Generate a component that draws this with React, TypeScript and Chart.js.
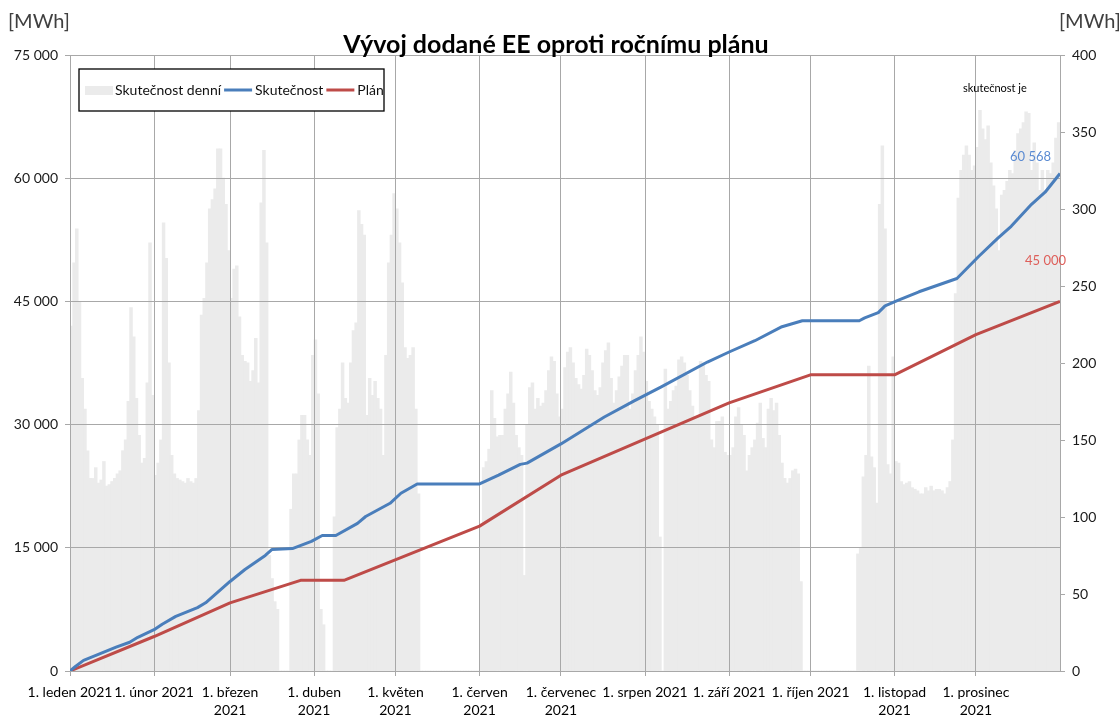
import React, { useEffect, useRef } from 'react';
import { Chart, registerables } from 'chart.js';

Chart.register(...registerables);

const titleText = 'Vývoj dodané EE oproti ročnímu plánu';
const unitLabel = '[MWh]';
const legendLabels = ['Skutečnost denní', 'Skutečnost', 'Plán'];
const noteText = 'skutečnost je';
const actualLabel = '60 568';
const planLabel = '45 000';

const monthStarts = [0, 31, 59, 90, 120, 151, 181, 212, 243, 273, 304, 334];
const monthLabels: (string | string[])[] = [
  '1. leden 2021',
  '1. únor 2021',
  ['1. březen', '2021'],
  ['1. duben', '2021'],
  ['1. květen', '2021'],
  ['1. červen', '2021'],
  ['1. červenec', '2021'],
  '1. srpen 2021',
  '1. září 2021',
  '1. říjen 2021',
  ['1. listopad', '2021'],
  ['1. prosinec', '2021'],
];

// daily delivered energy [MWh] (right axis)
const jan = [224, 265, 287, 240, 190, 170, 143, 125, 125, 132, 122, 124, 136, 120, 121, 123, 125, 128, 130, 143, 150, 175, 236, 217, 177, 153, 135, 138, 187, 278, 179];
const feb = [127, 135, 150, 291, 268, 200, 140, 128, 125, 124, 123, 122, 125, 123, 122, 125, 169, 231, 242, 265, 300, 306, 313, 339, 339, 320, 303, 273];
const mar = [242, 261, 263, 230, 205, 201, 200, 188, 195, 216, 187, 304, 338, 278, 75, 60, 45, 40, 0, 0, 0, 0, 105, 128, 128, 150, 166, 166, 150, 140, 205];
const apr = [215, 180, 40, 30, 0, 0, 0, 100, 158, 170, 200, 177, 174, 200, 221, 226, 299, 290, 283, 166, 190, 179, 188, 177, 170, 140, 205, 265, 283, 310];
const may = [300, 278, 252, 210, 203, 205, 210, 170, 115, 0, 0, 0, 0, 0, 0, 0, 0, 0, 0, 0, 0, 0, 0, 0, 0, 0, 0, 0, 0, 0, 0];
const jun = [95, 132, 136, 144, 182, 164, 152, 153, 153, 170, 180, 194, 174, 153, 145, 140, 62, 160, 184, 187, 170, 177, 172, 174, 182, 195, 204, 201, 180, 165];
const jul = [170, 197, 207, 210, 200, 190, 186, 183, 192, 209, 205, 195, 182, 179, 184, 200, 208, 213, 190, 174, 182, 191, 198, 205, 205, 170, 180, 195, 205, 217, 207];
const aug = [188, 175, 170, 165, 160, 87, 0, 196, 170, 175, 182, 185, 202, 204, 200, 192, 182, 172, 165, 165, 201, 200, 192, 188, 150, 145, 162, 162, 165, 142, 140];
const sep = [140, 145, 165, 171, 160, 153, 130, 140, 145, 150, 161, 174, 151, 145, 170, 177, 169, 174, 153, 135, 125, 122, 125, 130, 131, 128, 58, 0, 0, 0];
const oct = [0, 0, 0, 0, 0, 0, 0, 0, 0, 0, 0, 0, 0, 0, 0, 0, 0, 76, 80, 126, 140, 198, 139, 132, 109, 303, 341, 287, 134, 128, 204];
const nov = [136, 135, 123, 121, 122, 123, 119, 118, 117, 115, 115, 119, 117, 120, 117, 118, 118, 117, 115, 119, 123, 150, 245, 307, 325, 335, 341, 335, 325, 328];
const dec = [340, 364, 352, 345, 354, 330, 315, 300, 273, 309, 312, 318, 325, 323, 338, 349, 352, 356, 363, 362, 325, 343, 330, 312, 325, 312, 325, 323, 330, 346, 356];

// cumulative actual [MWh] (left axis), read at day-of-year positions
const actualDays = [0, 2, 5, 10, 17, 22, 25, 31, 34, 39, 47, 50, 59, 64.5, 72, 74.5, 82, 89, 93, 98, 106, 109, 118, 122, 128, 151, 158, 166, 168.5, 181, 197, 208, 218, 235, 243, 252.5, 262.5, 270, 291, 293, 298, 300.5, 305, 313, 327, 335, 342, 347, 354.5, 359.5, 365];
const actualValues = [0, 550, 1300, 1960, 2900, 3500, 4100, 5030, 5700, 6650, 7720, 8300, 10900, 12360, 14070, 14800, 14900, 15780, 16500, 16500, 17980, 18810, 20420, 21640, 22770, 22770, 23840, 25160, 25310, 27650, 30930, 32880, 34590, 37620, 38840, 40210, 41920, 42650, 42650, 43000, 43630, 44460, 45100, 46170, 47790, 50470, 52670, 54140, 56820, 58290, 60568];

// cumulative plan [MWh] (left axis)
const planDays = [0, 31, 59, 85, 101, 151, 181, 243, 273, 304, 334, 365];
const planValues = [0, 4200, 8300, 11040, 11040, 17640, 23840, 32640, 36060, 36060, 40945, 45000];

const FONT = 'Lato, "Open Sans", sans-serif';
const GRID = '#A8A8A8';
const BLUE = '#4A7EBB';
const RED = '#BE4B48';
const BAR = '#EBEBEB';

const fmt = (v: number) => String(Math.round(v)).replace(/\B(?=(\d{3})+(?!\d))/g, ' ');

// redraw the grid over the daily bars but beneath the two lines
const gridOverBarsPlugin = {
  id: 'gridOverBars',
  beforeDatasetDraw(chart: any, args: any) {
    if (args.index !== 1) return;
    const area = chart.chartArea;
    chart.scales.x.drawGrid(area);
    chart.scales.yL.drawGrid(area);
  },
};

const overlayPlugin = {
  id: 'overlay',
  afterDraw(chart: any) {
    const ctx = chart.ctx as CanvasRenderingContext2D;
    ctx.save();
    // title
    ctx.fillStyle = '#000';
    ctx.textAlign = 'center';
    ctx.textBaseline = 'alphabetic';
    ctx.font = `bold 25px ${FONT}`;
    ctx.fillText(titleText, 556, 53);
    // units
    ctx.font = `20px ${FONT}`;
    ctx.fillStyle = '#404040';
    ctx.textAlign = 'left';
    ctx.fillText(unitLabel, 8, 28);
    ctx.fillText(unitLabel, 1059, 28);
    // legend
    ctx.fillStyle = '#fff';
    ctx.fillRect(79, 69, 305, 42);
    ctx.strokeStyle = '#000';
    ctx.lineWidth = 1.3;
    ctx.strokeRect(79, 69, 305, 42);
    ctx.font = `14px ${FONT}`;
    let x = 85;
    const cy = 90;
    ctx.fillStyle = BAR;
    ctx.fillRect(x, cy - 4, 28, 9);
    x += 30;
    ctx.fillStyle = '#111';
    ctx.textBaseline = 'middle';
    ctx.fillText(legendLabels[0], x, cy);
    x += ctx.measureText(legendLabels[0]).width + 3;
    ctx.strokeStyle = BLUE;
    ctx.lineWidth = 3;
    ctx.beginPath();
    ctx.moveTo(x, cy);
    ctx.lineTo(x + 28, cy);
    ctx.stroke();
    x += 31;
    ctx.fillText(legendLabels[1], x, cy);
    x += ctx.measureText(legendLabels[1]).width + 3;
    ctx.strokeStyle = RED;
    ctx.beginPath();
    ctx.moveTo(x, cy);
    ctx.lineTo(x + 28, cy);
    ctx.stroke();
    x += 31;
    ctx.fillText(legendLabels[2], x, cy);
    // annotations
    ctx.textBaseline = 'alphabetic';
    ctx.font = `11px ${FONT}`;
    ctx.fillStyle = '#000';
    ctx.fillText(noteText, 963, 92);
    ctx.font = `13px ${FONT}`;
    ctx.fillStyle = '#5B8BD2';
    ctx.fillText(actualLabel, 1010, 161);
    ctx.fillStyle = '#DE5F5A';
    ctx.fillText(planLabel, 1025, 265);
    ctx.restore();
  },
};

export default function App() {
  const ref = useRef<HTMLCanvasElement>(null);

  useEffect(() => {
    if (!ref.current) return;
    Chart.defaults.font.family = FONT;
    const daily = [...jan, ...feb, ...mar, ...apr, ...may, ...jun, ...jul, ...aug, ...sep, ...oct, ...nov, ...dec];
    const barData = daily.map((v, i) => ({ x: i + 0.5, y: v }));
    const actualData = actualDays.map((d, i) => ({ x: d, y: actualValues[i] }));
    const planData = planDays.map((d, i) => ({ x: d, y: planValues[i] }));

    const chart = new Chart(ref.current, {
      type: 'bar',
      data: {
        datasets: [
          {
            type: 'line',
            label: legendLabels[1],
            data: actualData,
            yAxisID: 'yL',
            borderColor: BLUE,
            borderWidth: 3,
            pointRadius: 0,
            tension: 0,
            borderJoinStyle: 'round',
            order: 1,
          } as any,
          {
            type: 'line',
            label: legendLabels[2],
            data: planData,
            yAxisID: 'yL',
            borderColor: RED,
            borderWidth: 3,
            pointRadius: 0,
            tension: 0,
            borderJoinStyle: 'round',
            order: 2,
          } as any,
          {
            type: 'bar',
            label: legendLabels[0],
            data: barData,
            yAxisID: 'yR',
            backgroundColor: BAR,
            borderWidth: 0,
            barPercentage: 1,
            categoryPercentage: 1,
            inflateAmount: 0.4,
            order: 3,
          } as any,
        ],
      },
      options: {
        responsive: false,
        animation: false,
        devicePixelRatio: 1,
        layout: { padding: { top: 55, left: 0, right: 0, bottom: 0 } },
        plugins: {
          legend: { display: false },
          title: { display: false },
          tooltip: { enabled: false },
        },
        scales: {
          x: {
            type: 'linear',
            offset: false,
            min: 0,
            max: 365,
            afterBuildTicks: (s: any) => {
              s.ticks = monthStarts.map((v) => ({ value: v }));
            },
            afterFit: (s: any) => {
              s.height = 45;
            },
            ticks: {
              autoSkip: false,
              maxRotation: 0,
              minRotation: 0,
              padding: 7,
              color: '#000',
              font: { size: 14, lineHeight: 1.3 },
              callback: (_v: any, i: number) => monthLabels[i],
            },
            grid: { color: GRID, tickLength: 5, lineWidth: 1, offset: false },
            border: { color: GRID },
          },
          yL: {
            type: 'linear',
            position: 'left',
            min: 0,
            max: 75000,
            afterFit: (s: any) => {
              s.width = 70;
            },
            ticks: {
              stepSize: 15000,
              padding: 7,
              color: '#1a1a1a',
              font: { size: 14 },
              callback: (v: any) => fmt(Number(v)),
            },
            grid: { color: GRID, tickLength: 5, lineWidth: 1 },
            border: { color: GRID },
          },
          yR: {
            type: 'linear',
            position: 'right',
            min: 0,
            max: 400,
            afterFit: (s: any) => {
              s.width = 59;
            },
            ticks: {
              stepSize: 50,
              padding: 7,
              color: '#1a1a1a',
              font: { size: 14 },
            },
            grid: { drawOnChartArea: false, color: GRID, tickLength: 5 },
            border: { color: GRID },
          },
        },
      } as any,
      plugins: [gridOverBarsPlugin, overlayPlugin],
    });
    return () => chart.destroy();
  }, []);

  return (
    <div style={{ position: 'absolute', left: 0, top: 0, width: 1119, height: 716, background: '#fff' }}>
      <canvas ref={ref} width={1119} height={716} style={{ width: 1119, height: 716, display: 'block' }} />
    </div>
  );
}
